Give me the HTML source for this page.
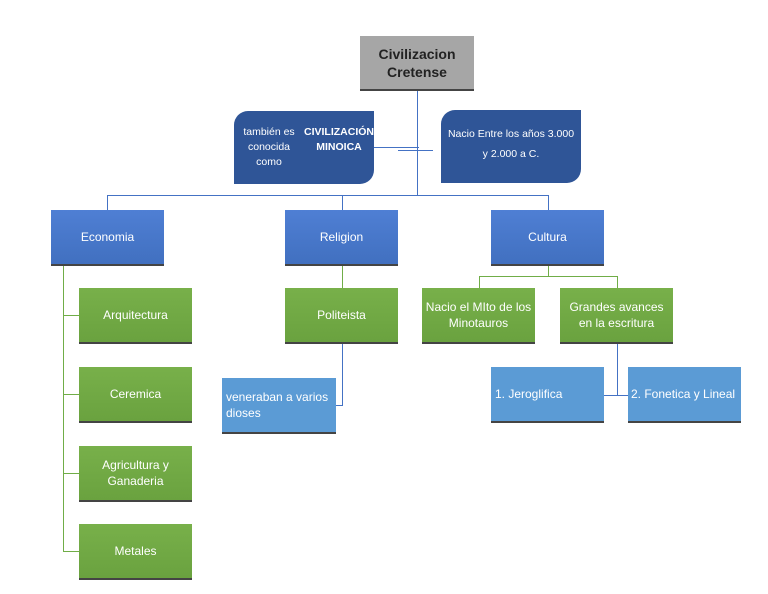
<!DOCTYPE html><html><head><style>
body{margin:0;width:768px;height:594px;background:#fff;position:relative;font-family:"Liberation Sans",sans-serif;overflow:hidden}
.b{position:absolute;display:flex;align-items:center;justify-content:center;text-align:center;color:#fff;font-size:12px;line-height:16px;box-sizing:border-box;border-bottom:2px solid #444}
.g{background:linear-gradient(#78b04a,#6aa23f)}
.bl{background:linear-gradient(#4f7fd4,#4170c0)}
.lb{background:#5b9bd5}
.d{background:#2f5597;border-radius:14px 0 14px 0}
.l{position:absolute;background:#4472c4}
.lg{position:absolute;background:#70ad47}
</style></head><body>
<div class="l" style="left:417px;top:91px;width:1px;height:104px"></div>
<div class="l" style="left:107px;top:195px;width:441px;height:1px"></div>
<div class="l" style="left:107px;top:195px;width:1px;height:15px"></div>
<div class="l" style="left:342px;top:195px;width:1px;height:15px"></div>
<div class="l" style="left:548px;top:195px;width:1px;height:15px"></div>
<div class="l" style="left:374px;top:147px;width:45px;height:1px"></div>
<div class="l" style="left:398px;top:150px;width:35px;height:1px"></div>
<div class="b" style="left:360px;top:36px;width:114px;height:55px;background:#a6a6a6;color:#222;font-weight:bold;font-size:14px;line-height:18px">Civilizacion<br>Cretense</div>
<div class="b d" style="left:234px;top:111px;width:140px;height:73px;font-size:10.5px;line-height:15px;align-items:flex-start;padding-top:14px;border:none">también es conocida como<br><b>CIVILIZACIÓN MINOICA</b></div>
<div class="b d" style="left:441px;top:110px;width:140px;height:73px;font-size:10.5px;line-height:20px;border:none;padding-bottom:6px">Nacio Entre los años 3.000<br>y 2.000 a C.</div>
<div class="b bl" style="left:51px;top:210px;width:113px;height:56px">Economia</div>
<div class="b bl" style="left:285px;top:210px;width:113px;height:56px">Religion</div>
<div class="b bl" style="left:491px;top:210px;width:113px;height:56px">Cultura</div>
<div class="lg" style="left:63px;top:266px;width:1px;height:286px"></div>
<div class="lg" style="left:63px;top:315px;width:16px;height:1px"></div>
<div class="lg" style="left:63px;top:394px;width:16px;height:1px"></div>
<div class="lg" style="left:63px;top:473px;width:16px;height:1px"></div>
<div class="lg" style="left:63px;top:551px;width:16px;height:1px"></div>
<div class="b g" style="left:79px;top:288px;width:113px;height:56px">Arquitectura</div>
<div class="b g" style="left:79px;top:367px;width:113px;height:56px">Ceremica</div>
<div class="b g" style="left:79px;top:446px;width:113px;height:56px">Agricultura y<br>Ganaderia</div>
<div class="b g" style="left:79px;top:524px;width:113px;height:56px">Metales</div>
<div class="lg" style="left:342px;top:266px;width:1px;height:22px"></div>
<div class="b g" style="left:285px;top:288px;width:113px;height:56px">Politeista</div>
<div class="l" style="left:342px;top:344px;width:1px;height:61px"></div>
<div class="l" style="left:336px;top:405px;width:7px;height:1px"></div>
<div class="b lb" style="left:222px;top:378px;width:114px;height:56px;justify-content:flex-start;text-align:left;padding-left:4px">veneraban a varios<br>dioses</div>
<div class="lg" style="left:548px;top:266px;width:1px;height:10px"></div>
<div class="lg" style="left:479px;top:276px;width:138px;height:1px"></div>
<div class="lg" style="left:479px;top:276px;width:1px;height:12px"></div>
<div class="lg" style="left:617px;top:276px;width:1px;height:12px"></div>
<div class="b g" style="left:422px;top:288px;width:113px;height:56px">Nacio el MIto de los<br>Minotauros</div>
<div class="b g" style="left:560px;top:288px;width:113px;height:56px">Grandes avances<br>en la escritura</div>
<div class="l" style="left:617px;top:344px;width:1px;height:51px"></div>
<div class="l" style="left:604px;top:395px;width:24px;height:1px"></div>
<div class="b lb" style="left:491px;top:367px;width:113px;height:56px;justify-content:flex-start;padding-left:4px">1. Jeroglifica</div>
<div class="b lb" style="left:628px;top:367px;width:113px;height:56px;justify-content:flex-start;padding-left:3px">2. Fonetica y Lineal</div>
</body></html>
